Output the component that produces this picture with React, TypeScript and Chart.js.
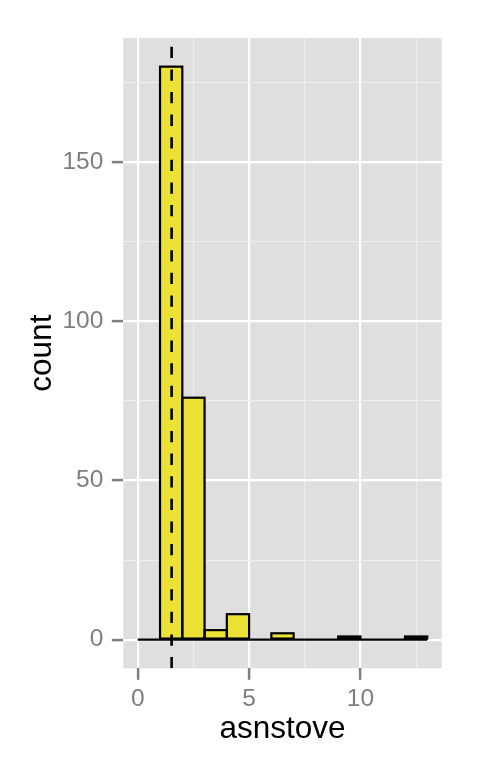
import React, { useEffect, useRef } from 'react';
import { Chart, registerables } from 'chart.js';

Chart.register(...registerables);

// ---- data ----
const binLeftEdges = [0, 1, 2, 3, 4, 5, 6, 7, 8, 9, 10, 11, 12];
const binWidth = 1;
const counts = [0, 180, 76, 3, 8, 0, 2, 0, 0, 1, 0, 0, 1];
const meanValue = 1.52;
const xMajorTicks = [0, 5, 10];
const xMinorTicks = [2.5, 7.5, 12.5];
const yMajorTicks = [0, 50, 100, 150];
const yMinorTicks = [25, 75, 125, 175];
const xLimits = [-0.65, 13.65];
const yLimits = [-9, 189];
const xTitle = 'asnstove';
const yTitle = 'count';

const FONT = "'Liberation Sans', Arial, Helvetica, sans-serif";
const TICK_GREY = '#7f7f7f';
const PANEL_BG = '#dfdfdf';
const MINOR_GRID = '#eeeeee';
const BAR_FILL = '#ECE236';
const OUTLINE_W = 2.2;

const panelBg = {
  id: 'panelBg',
  beforeDraw(chart: any) {
    const { ctx, chartArea: a } = chart;
    ctx.save();
    ctx.fillStyle = PANEL_BG;
    ctx.fillRect(a.left, a.top, a.right - a.left, a.bottom - a.top);
    ctx.restore();
  },
};

// ggplot-like outline: stroke centred on each bar's edges
const barOutline = {
  id: 'barOutline',
  afterDatasetDraw(chart: any, args: any) {
    const meta = args.meta;
    if (meta.type !== 'bar') return;
    const { ctx, chartArea: a } = chart;
    ctx.save();
    ctx.beginPath();
    ctx.rect(a.left, a.top, a.right - a.left, a.bottom - a.top);
    ctx.clip();
    ctx.strokeStyle = '#000000';
    ctx.lineWidth = OUTLINE_W;
    ctx.lineJoin = 'miter';
    meta.data.forEach((el: any) => {
      const p = el.getProps(['x', 'y', 'base', 'width'], true);
      if (Math.abs(p.base - p.y) < 0.01) return;
      ctx.strokeRect(p.x - p.width / 2, Math.min(p.y, p.base), p.width, Math.abs(p.base - p.y));
    });
    ctx.restore();
  },
};

function gridOpts(majors: number[]) {
  const maj = (c: any) => c.tick && majors.includes(c.tick.value);
  return {
    offset: false,
    drawTicks: true,
    color: (c: any) => (maj(c) ? '#ffffff' : MINOR_GRID),
    lineWidth: (c: any) => (maj(c) ? 2.2 : 1.1),
    tickColor: (c: any) => (maj(c) ? TICK_GREY : 'rgba(0,0,0,0)'),
    tickWidth: 2.5,
    tickLength: 11.5,
  };
}

export default function App() {
  const ref = useRef<HTMLCanvasElement | null>(null);

  useEffect(() => {
    if (!ref.current) return;
    const lastEdge = binLeftEdges[binLeftEdges.length - 1] + binWidth;
    const chart = new Chart(ref.current, {
      type: 'bar',
      data: {
        datasets: [
          {
            type: 'line',
            label: 'mean',
            data: [
              { x: meanValue, y: yLimits[0] },
              { x: meanValue, y: yLimits[1] },
            ],
            borderColor: '#000000',
            borderWidth: 2.6,
            borderDash: [11.3, 11.3],
            pointRadius: 0,
            order: 0,
          } as any,
          {
            type: 'line',
            label: 'base',
            data: [
              { x: binLeftEdges[0], y: 0 },
              { x: lastEdge, y: 0 },
            ],
            borderColor: '#000000',
            borderWidth: OUTLINE_W,
            pointRadius: 0,
            order: 1,
          } as any,
          {
            type: 'bar',
            label: 'count',
            data: binLeftEdges.map((e, i) => ({ x: e + binWidth / 2, y: counts[i] })),
            backgroundColor: BAR_FILL,
            borderWidth: 0,
            barPercentage: 1,
            categoryPercentage: 1,
            order: 2,
          } as any,
        ],
      },
      options: {
        animation: false,
        responsive: false,
        maintainAspectRatio: false,
        layout: { padding: { top: 38, right: 38.3, left: 0, bottom: 0 } },
        plugins: {
          legend: { display: false },
          tooltip: { enabled: false },
        },
        scales: {
          x: {
            type: 'linear',
            min: xLimits[0],
            max: xLimits[1],
            offset: false,
            afterBuildTicks: (s: any) => {
              s.ticks = [...xMajorTicks, ...xMinorTicks]
                .sort((a, b) => a - b)
                .map((v) => ({ value: v }));
            },
            afterFit: (s: any) => {
              s.height = 99.7;
            },
            ticks: {
              autoSkip: false,
              maxRotation: 0,
              minRotation: 0,
              padding: 5,
              color: TICK_GREY,
              font: { family: FONT, size: 24.5 },
              callback: (v: any) => (xMajorTicks.includes(Number(v)) ? String(v) : ''),
            },
            grid: gridOpts(xMajorTicks) as any,
            border: { display: false },
            title: {
              display: true,
              text: xTitle,
              color: '#000000',
              font: { family: FONT, size: 31.5 },
              padding: { top: 0, bottom: 20 },
            },
          },
          y: {
            type: 'linear',
            min: yLimits[0],
            max: yLimits[1],
            afterBuildTicks: (s: any) => {
              s.ticks = [...yMajorTicks, ...yMinorTicks]
                .sort((a, b) => a - b)
                .map((v) => ({ value: v }));
            },
            afterFit: (s: any) => {
              s.width = 123.3;
            },
            ticks: {
              autoSkip: false,
              padding: 8.5,
              color: TICK_GREY,
              font: { family: FONT, size: 24.5 },
              callback: (v: any) => (yMajorTicks.includes(Number(v)) ? String(v) : ''),
            },
            grid: gridOpts(yMajorTicks) as any,
            border: { display: false },
            title: {
              display: true,
              text: yTitle,
              color: '#000000',
              font: { family: FONT, size: 31.5 },
              padding: { top: 23, bottom: 0 },
            },
          },
        },
      } as any,
      plugins: [panelBg, barOutline],
    });
    return () => chart.destroy();
  }, []);

  return (
    <div style={{ position: 'absolute', left: 0, top: 0, width: 480, height: 768, background: '#ffffff' }}>
      <canvas ref={ref} width={480} height={768} style={{ display: 'block' }} />
    </div>
  );
}
